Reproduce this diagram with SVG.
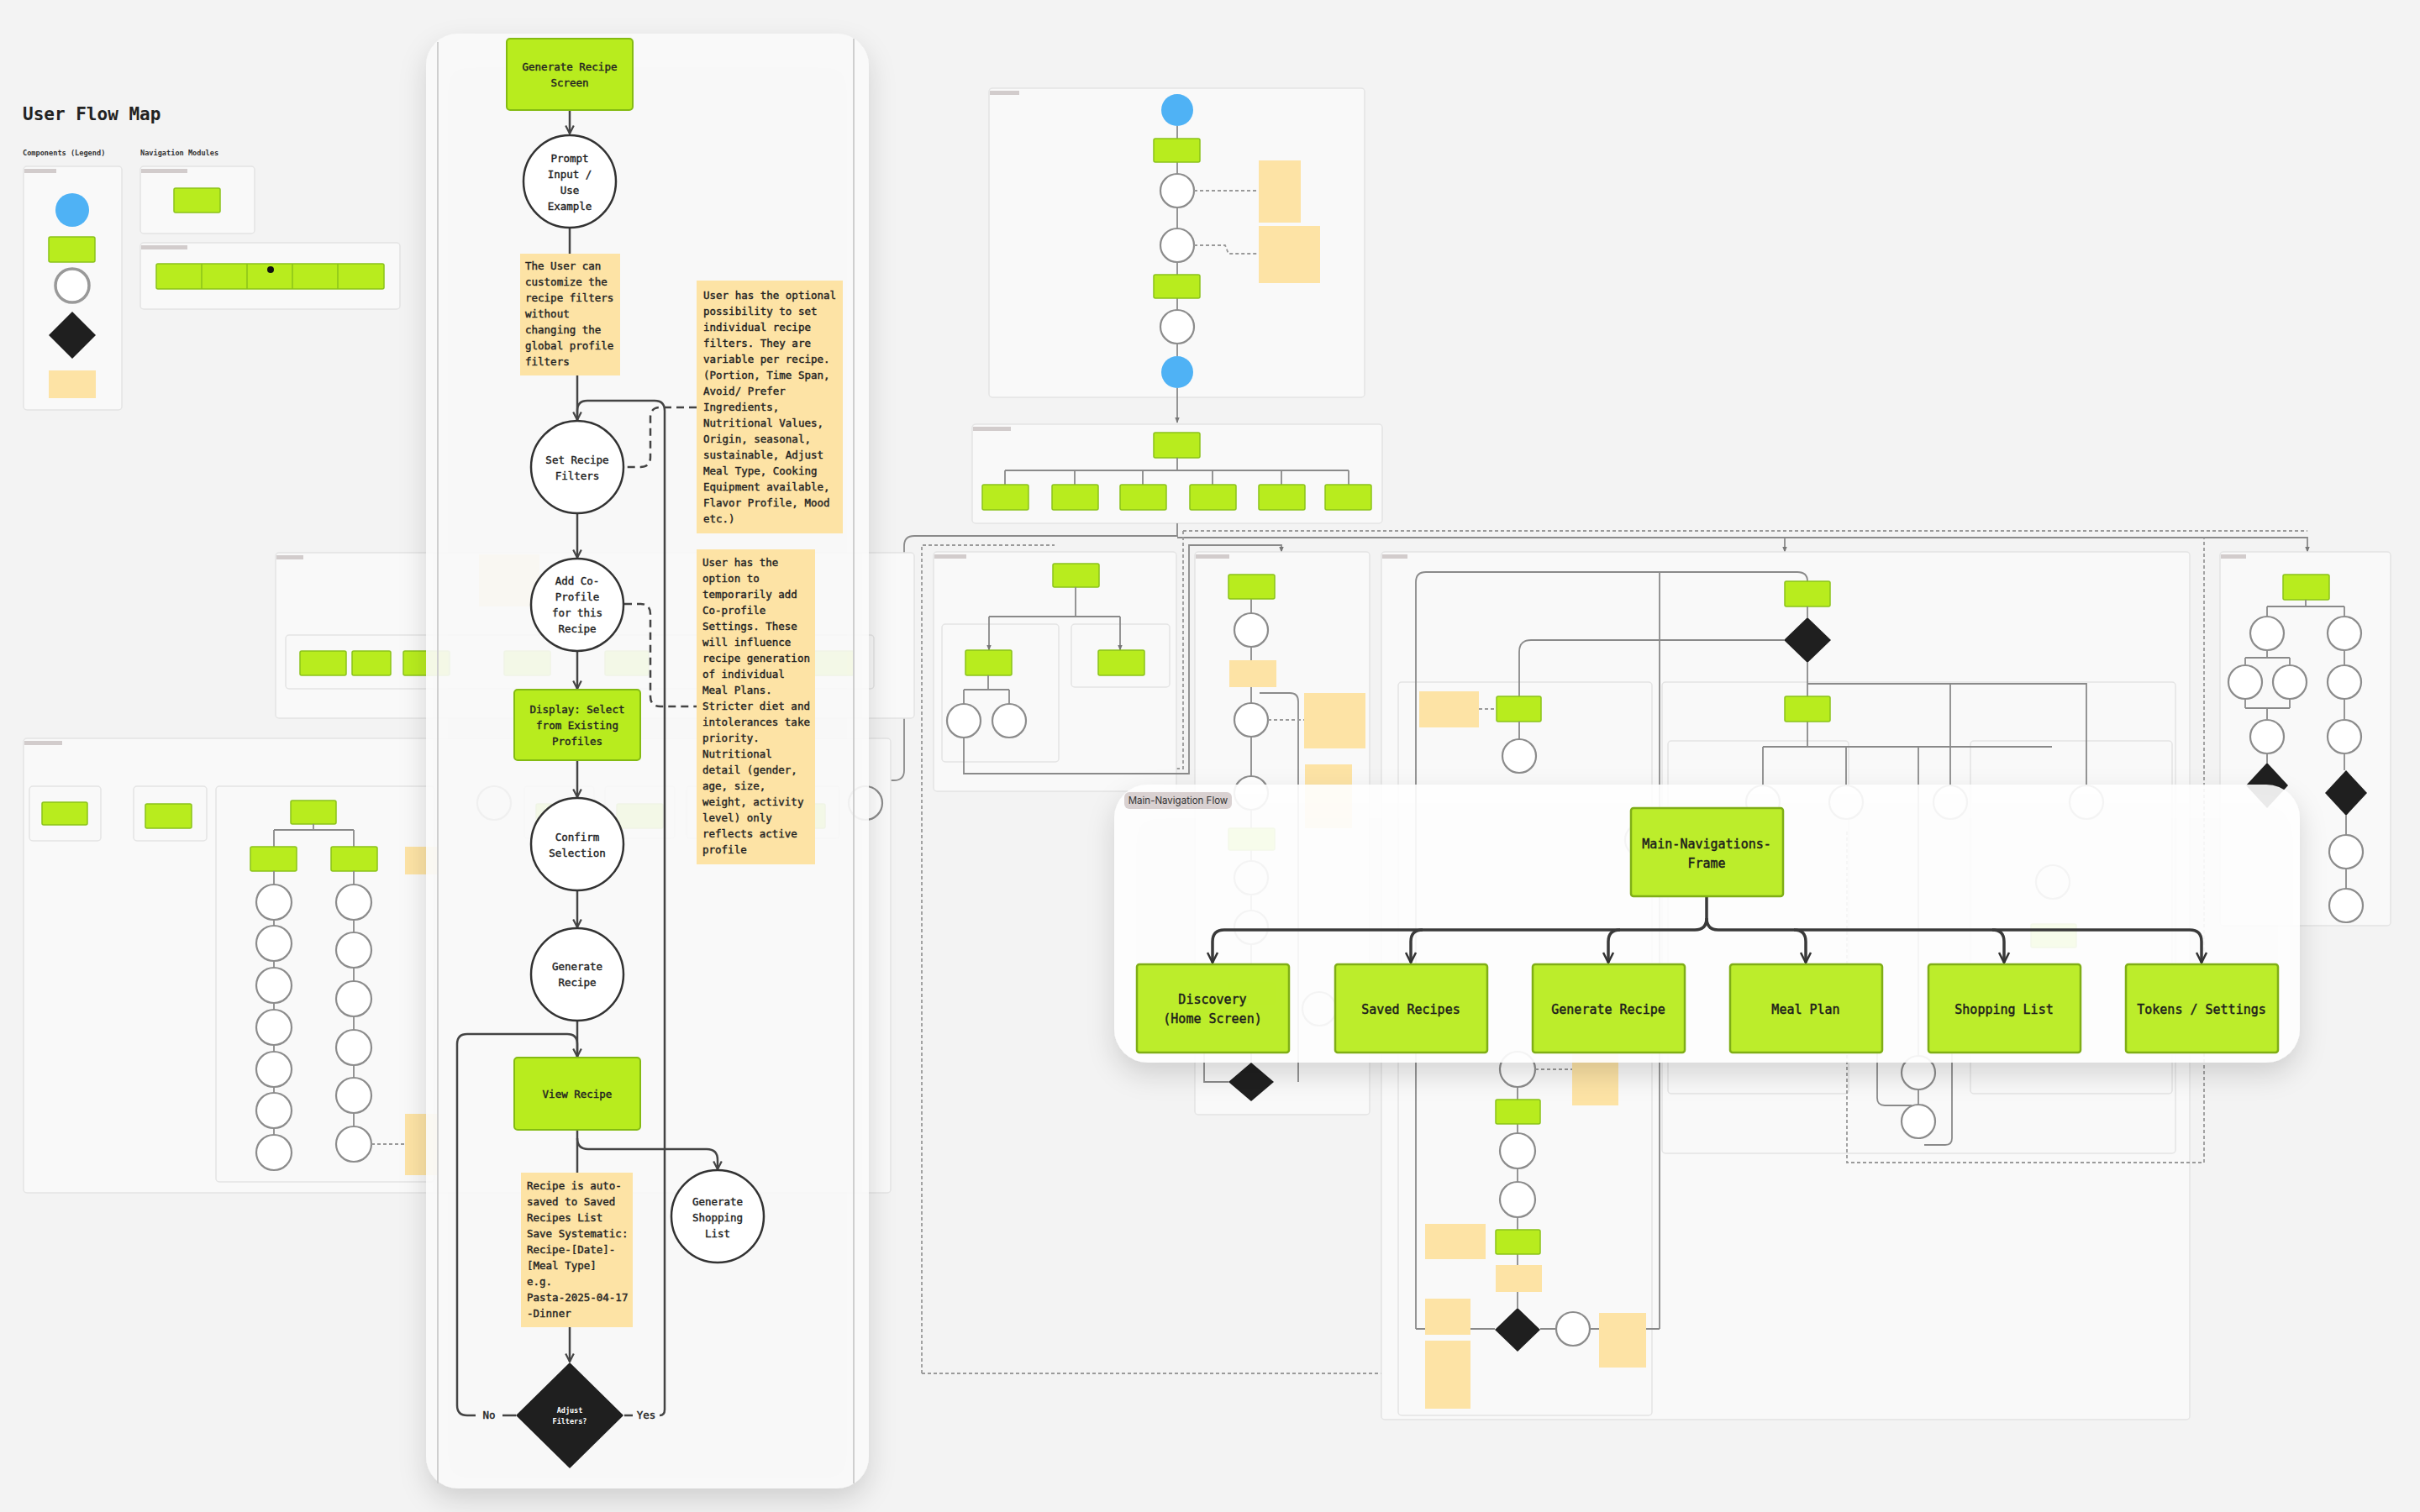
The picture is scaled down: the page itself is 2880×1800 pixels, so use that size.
<svg xmlns="http://www.w3.org/2000/svg" width="2880" height="1800" viewBox="0 0 2880 1800">
<defs>
<style>
.mono{font-family:"DejaVu Sans Mono","Liberation Mono",monospace}
.t{font-size:12.5px;fill:#222;stroke:#222;stroke-width:0.4}
.tm{font-size:15px;fill:#1c1c1c;stroke:#1c1c1c;stroke-width:0.45}
.tc{text-anchor:middle}
.fr{fill:#f9f9f9;stroke:#e4e4e4;stroke-width:1.5}
.tag{fill:#d2cccc}
.g{fill:#b8ec1e;stroke:#84bb12;stroke-width:2}
.gm{fill:#b8ec1e;fill-opacity:0.94;stroke:#7fae16;stroke-width:2.5}
.gb{fill:#b8ec1e;stroke:#8ac21a;stroke-width:1.5}
.n{fill:#fde3a5}
.c{fill:#fff;stroke:#333;stroke-width:2.5}
.cb{fill:#fff;stroke:#8c8c8c;stroke-width:2.2}
.bl{fill:#4fb2f5}
.d{fill:#1f1f1f}
.l{fill:none;stroke:#444;stroke-width:2.5}
.lb{fill:none;stroke:#8a8a8a;stroke-width:1.8}
.db{fill:none;stroke:#9a9a9a;stroke-width:1.8;stroke-dasharray:4 3}
.dl{fill:none;stroke:#444;stroke-width:2.5;stroke-dasharray:9 6}
.nav{fill:none;stroke:#3a3a3a;stroke-width:3.5}
</style>
<marker id="a" viewBox="0 0 10 10" refX="9" refY="5" markerWidth="12" markerHeight="12" markerUnits="userSpaceOnUse" orient="auto"><path d="M1,1 L9,5 L1,9" fill="none" stroke="#444" stroke-width="1.8"/></marker>
<marker id="an" viewBox="0 0 10 10" refX="9" refY="5" markerWidth="15" markerHeight="15" markerUnits="userSpaceOnUse" orient="auto"><path d="M1,1 L9,5 L1,9" fill="none" stroke="#333" stroke-width="1.7"/></marker>
<marker id="ab" viewBox="0 0 10 10" refX="9" refY="5" markerWidth="7" markerHeight="7" markerUnits="userSpaceOnUse" orient="auto"><path d="M0,1 L10,5 L0,9 z" fill="#777"/></marker>
<filter id="sh" x="-10%" y="-10%" width="120%" height="130%"><feDropShadow dx="0" dy="14" stdDeviation="16" flood-color="#000" flood-opacity="0.16"/></filter>
</defs>

<rect width="2880" height="1800" fill="#f3f3f3"/>

<!-- ================= BACKGROUND MAP ================= -->
<g id="background">
  <text x="27" y="143" class="mono" font-size="21" font-weight="bold" fill="#222">User Flow Map</text>
  <text x="27" y="185" class="mono" font-size="8.6" font-weight="bold" fill="#333">Components (Legend)</text>
  <text x="167" y="185" class="mono" font-size="8.6" font-weight="bold" fill="#333">Navigation Modules</text>

  <g id="legend">
    <rect x="28" y="198" width="117" height="290" rx="4" class="fr"/>
    <rect x="29" y="201" width="38" height="5" class="tag"/>
    <circle cx="86" cy="250" r="20" class="bl"/>
    <rect x="58" y="282" width="55" height="30" rx="2" class="gb"/>
    <circle cx="86" cy="340" r="20" fill="#fff" stroke="#999" stroke-width="3.5"/>
    <polygon points="86,371 114,399 86,427 58,399" class="d"/>
    <rect x="58" y="441" width="56" height="33" class="n"/>
  </g>
  <g id="nav-modules">
    <rect x="167" y="198" width="136" height="80" rx="4" class="fr"/>
    <rect x="168" y="201" width="55" height="5" class="tag"/>
    <rect x="207" y="224" width="55" height="29" rx="2" class="gb"/>
    <rect x="167" y="289" width="309" height="79" rx="4" class="fr"/>
    <rect x="168" y="292" width="55" height="5" class="tag"/>
    <rect x="186" y="314" width="271" height="30" rx="2" class="gb"/>
    <path d="M240,314 V344 M294,314 V344 M348,314 V344 M402,314 V344" stroke="#8ac21a" stroke-width="1.5"/>
    <circle cx="322" cy="321" r="4" fill="#111"/>
  </g>

  <g id="onboarding-flow">
    <rect x="1177" y="105" width="447" height="368" rx="4" class="fr"/>
    <rect x="1178" y="108" width="35" height="5" class="tag"/>
    <path class="lb" d="M1401,150 V165 M1401,193 V207 M1401,247 V272 M1401,312 V327 M1401,355 V369 M1401,409 V424"/>
    <path class="lb" d="M1401,462 V503" marker-end="url(#ab)"/>
    <circle cx="1401" cy="131" r="19" class="bl"/>
    <rect x="1373" y="165" width="55" height="28" rx="2" class="gb"/>
    <circle cx="1401" cy="227" r="20" class="cb"/>
    <circle cx="1401" cy="292" r="20" class="cb"/>
    <rect x="1373" y="327" width="55" height="28" rx="2" class="gb"/>
    <circle cx="1401" cy="389" r="20" class="cb"/>
    <circle cx="1401" cy="443" r="19" class="bl"/>
    <rect x="1498" y="191" width="50" height="74" class="n"/>
    <rect x="1498" y="269" width="73" height="68" class="n"/>
    <path class="db" d="M1421,227 H1498 M1421,292 H1458 L1462,302 H1498"/>
  </g>

  <g id="main-navigation-flow-bg">
    <rect x="1157" y="505" width="488" height="118" rx="4" class="fr"/>
    <rect x="1158" y="508" width="45" height="5" class="tag"/>
    <rect x="1373" y="515" width="55" height="30" rx="2" class="gb"/>
    <path class="lb" d="M1401,545 V560 M1196,560 H1605"/>
    <path class="lb" d="M1196,560 V577 M1279,560 V577 M1360,560 V577 M1443,560 V577 M1525,560 V577 M1605,560 V577"/>
    <rect x="1169" y="577" width="55" height="30" rx="2" class="gb"/>
    <rect x="1252" y="577" width="55" height="30" rx="2" class="gb"/>
    <rect x="1333" y="577" width="55" height="30" rx="2" class="gb"/>
    <rect x="1416" y="577" width="55" height="30" rx="2" class="gb"/>
    <rect x="1498" y="577" width="55" height="30" rx="2" class="gb"/>
    <rect x="1577" y="577" width="55" height="30" rx="2" class="gb"/>
  </g>

  <g id="bus-bg">
    <path class="lb" d="M1401,623 V638 H1088 Q1076,638 1076,650 V917 Q1076,929 1064,929 H89 Q77,929 77,941" marker-end="url(#ab)"/>
    <path class="lb" d="M1076,716 Q1076,728 1064,728 H460 Q448,728 448,740 V756" marker-end="url(#ab)"/>
    <path class="lb" d="M1401,640 H2746 V657" marker-end="url(#ab)"/>
    <path class="db" d="M1408,632 H2746"/>
    <path class="lb" d="M2124,640 V657" marker-end="url(#ab)"/>
    <path class="lb" d="M203,929 V937 M407,929 V937 M588,929 V937 M665,929 V937 M762,929 V937 M956,929 V937"/>
  </g>

  <g id="discovery-flow-bg">
    <rect x="328" y="658" width="760" height="197" rx="4" class="fr"/>
    <rect x="329" y="661" width="32" height="5" class="tag"/>
    <rect x="340" y="756" width="700" height="64" rx="4" class="fr"/>
    <rect x="357" y="775" width="55" height="29" rx="2" class="gb"/>
    <rect x="419" y="775" width="46" height="29" rx="2" class="gb"/>
    <rect x="480" y="775" width="55" height="29" rx="2" class="gb"/>
    <rect x="600" y="775" width="55" height="29" rx="2" class="gb"/>
    <rect x="720" y="775" width="52" height="29" rx="2" class="gb"/>
    <rect x="963" y="775" width="53" height="29" rx="2" class="gb"/>
    <rect x="570" y="660" width="72" height="62" class="n"/>
  </g>

  <g id="tokens-settings-flow-bg">
    <rect x="28" y="879" width="1032" height="541" rx="4" class="fr"/>
    <rect x="29" y="882" width="45" height="5" class="tag"/>
    <rect x="35" y="936" width="85" height="65" rx="4" class="fr"/>
    <rect x="159" y="936" width="87" height="65" rx="4" class="fr"/>
    <rect x="257" y="936" width="260" height="471" rx="4" class="fr"/>
    <rect x="624" y="936" width="83" height="62" rx="4" class="fr"/>
    <rect x="720" y="936" width="83" height="62" rx="4" class="fr"/>
    <rect x="817" y="936" width="89" height="62" rx="4" class="fr"/>
    <rect x="913" y="936" width="86" height="62" rx="4" class="fr"/>
    <rect x="50" y="955" width="54" height="27" rx="2" class="gb"/>
    <rect x="173" y="957" width="55" height="29" rx="2" class="gb"/>
    <circle cx="588" cy="956" r="20" class="cb"/>
    <rect x="638" y="957" width="55" height="29" rx="2" class="gb"/>
    <rect x="734" y="957" width="55" height="29" rx="2" class="gb"/>
    <rect x="927" y="957" width="55" height="29" rx="2" class="gb"/>
    <circle cx="1030" cy="956" r="20" class="cb"/>
    <rect x="346" y="953" width="54" height="28" rx="2" class="gb"/>
    <path class="lb" d="M373,981 V988 M326,988 H421 M326,988 V1008 M421,988 V1008"/>
    <rect x="298" y="1008" width="55" height="29" rx="2" class="gb"/>
    <rect x="394" y="1008" width="55" height="29" rx="2" class="gb"/>
    <path class="lb" d="M326,1037 V1351 M421,1037 V1341"/>
    <circle cx="326" cy="1074" r="21" class="cb"/>
    <circle cx="326" cy="1123" r="21" class="cb"/>
    <circle cx="326" cy="1173" r="21" class="cb"/>
    <circle cx="326" cy="1223" r="21" class="cb"/>
    <circle cx="326" cy="1273" r="21" class="cb"/>
    <circle cx="326" cy="1322" r="21" class="cb"/>
    <circle cx="326" cy="1372" r="21" class="cb"/>
    <circle cx="421" cy="1074" r="21" class="cb"/>
    <circle cx="421" cy="1131" r="21" class="cb"/>
    <circle cx="421" cy="1189" r="21" class="cb"/>
    <circle cx="421" cy="1247" r="21" class="cb"/>
    <circle cx="421" cy="1304" r="21" class="cb"/>
    <circle cx="421" cy="1362" r="21" class="cb"/>
    <rect x="482" y="1008" width="40" height="33" class="n"/>
    <rect x="482" y="1326" width="38" height="73" class="n"/>
    <path class="db" d="M442,1362 H482"/>
  </g>

  <g id="saved-recipes-flow-bg">
    <path class="db" d="M1097,1635 V649 H1255"/>
    <path class="db" d="M1097,1635 H1696"/>
    <path class="db" d="M1408,632 V915 H1201 V878"/>
    <rect x="1111" y="657" width="289" height="285" rx="4" class="fr"/>
    <rect x="1112" y="660" width="38" height="5" class="tag"/>
    <rect x="1253" y="671" width="55" height="28" rx="2" class="gb"/>
    <path class="lb" d="M1280,699 V734 M1177,734 H1333"/>
    <rect x="1121" y="743" width="139" height="164" rx="4" class="fr"/>
    <rect x="1275" y="743" width="117" height="75" rx="4" class="fr"/>
    <path class="lb" d="M1177,734 V774" marker-end="url(#ab)"/>
    <path class="lb" d="M1333,734 V774" marker-end="url(#ab)"/>
    <rect x="1149" y="774" width="55" height="30" rx="2" class="gb"/>
    <rect x="1307" y="774" width="55" height="30" rx="2" class="gb"/>
    <path class="lb" d="M1176,804 V821 M1147,821 H1201 M1147,821 V838 M1201,821 V838"/>
    <circle cx="1147" cy="858" r="20" class="cb"/>
    <circle cx="1201" cy="858" r="20" class="cb"/>
    <path class="lb" d="M1147,878 V921 H1415 V649 H1525 V657" marker-end="url(#ab)"/>
  </g>

  <g id="generate-recipe-flow-bg">
    <rect x="1422" y="657" width="208" height="670" rx="4" class="fr"/>
    <rect x="1423" y="660" width="40" height="5" class="tag"/>
    <path class="lb" d="M1489,713 V730 M1489,770 V837 M1489,877 V924 M1489,964 V986 M1489,1012 V1025 M1489,1065 V1084 M1489,1124 V1264"/>
    <path class="lb" d="M1545,1288 V835 Q1545,825 1535,825 H1499"/>
    <path class="lb" d="M1462,1288 H1433 V1150"/>
    <rect x="1462" y="684" width="55" height="29" rx="2" class="gb"/>
    <circle cx="1489" cy="750" r="20" class="cb"/>
    <rect x="1463" y="786" width="56" height="32" class="n"/>
    <circle cx="1489" cy="857" r="20" class="cb"/>
    <rect x="1552" y="825" width="73" height="66" class="n"/>
    <rect x="1553" y="910" width="56" height="76" class="n"/>
    <path class="db" d="M1509,857 H1552"/>
    <circle cx="1489" cy="944" r="20" class="cb"/>
    <rect x="1462" y="986" width="55" height="26" rx="2" class="gb"/>
    <circle cx="1489" cy="1045" r="20" class="cb"/>
    <circle cx="1489" cy="1104" r="20" class="cb"/>
    <rect x="1462" y="1170" width="55" height="26" rx="2" class="gb"/>
    <circle cx="1570" cy="1201" r="20" class="cb"/>
    <polygon points="1489,1265 1516,1288 1489,1311 1462,1288" class="d"/>
  </g>

  <g id="meal-plan-flow-bg">
    <rect x="1644" y="657" width="962" height="1033" rx="4" class="fr"/>
    <rect x="1645" y="660" width="30" height="5" class="tag"/>
    <rect x="1664" y="812" width="302" height="873" rx="4" class="fr"/>
    <rect x="1978" y="812" width="611" height="561" rx="4" class="fr"/>
    <rect x="1985" y="882" width="215" height="420" rx="4" class="fr"/>
    <rect x="2345" y="882" width="240" height="420" rx="4" class="fr"/>
    <path class="db" d="M2198,990 V1384 H2623 V640"/>
    <path class="lb" d="M1685,1582 V693 Q1685,681 1697,681 H2139 Q2151,681 2151,692"/>
    <path class="lb" d="M1975,681 V1582"/>
    <rect x="2124" y="692" width="54" height="30" rx="2" class="gb"/>
    <path class="lb" d="M2151,722 V735 M2151,789 V829 M2151,859 V889 M2098,889 H2442 M2151,814 H2483 V935 M2321,814 V935"/>
    <path class="lb" d="M2098,889 V935 M2197,889 V935 M2283,889 V1257 M2283,1297 V1315"/>
    <polygon points="2151,735 2179,762 2151,789 2123,762" class="d"/>
    <path class="lb" d="M2123,762 H1822 Q1808,762 1808,776 V829"/>
    <rect x="1781" y="829" width="53" height="30" rx="2" class="gb"/>
    <rect x="1689" y="823" width="71" height="43" class="n"/>
    <path class="db" d="M1760,844 H1781"/>
    <path class="lb" d="M1808,859 V880"/>
    <circle cx="1808" cy="900" r="20" class="cb"/>
    <rect x="2124" y="829" width="54" height="30" rx="2" class="gb"/>
    <circle cx="2098" cy="955" r="20" class="cb"/>
    <circle cx="2197" cy="955" r="20" class="cb"/>
    <circle cx="2321" cy="955" r="20" class="cb"/>
    <circle cx="2483" cy="955" r="20" class="cb"/>
    <circle cx="2443" cy="1050" r="20" class="cb"/>
    <rect x="2417" y="1100" width="54" height="28" rx="2" class="gb"/>
    <circle cx="1954" cy="1000" r="20" class="cb"/>
    <circle cx="2283" cy="1277" r="20" class="cb"/>
    <circle cx="2283" cy="1335" r="20" class="cb"/>
    <path class="lb" d="M2234,1180 V1307 Q2234,1316 2243,1316 H2275 M2323,1180 V1355 Q2323,1363 2315,1363 H2290"/>
    <path class="lb" d="M1806,1294 V1309 M1806,1338 V1349 M1806,1391 V1407 M1806,1449 V1464 M1806,1493 V1506 M1806,1538 V1557"/>
    <circle cx="1806" cy="1273" r="21" class="cb"/>
    <rect x="1780" y="1309" width="53" height="29" rx="2" class="gb"/>
    <circle cx="1806" cy="1370" r="21" class="cb"/>
    <circle cx="1806" cy="1428" r="21" class="cb"/>
    <rect x="1780" y="1464" width="53" height="29" rx="2" class="gb"/>
    <rect x="1780" y="1506" width="55" height="32" class="n"/>
    <path class="lb" d="M1685,1582 H1779 M1833,1582 H1852 M1892,1582 H1975"/>
    <polygon points="1806,1557 1833,1583 1806,1609 1779,1583" class="d"/>
    <circle cx="1872" cy="1582" r="20" class="cb"/>
    <rect x="1696" y="1457" width="72" height="42" class="n"/>
    <rect x="1696" y="1546" width="54" height="43" class="n"/>
    <rect x="1696" y="1596" width="54" height="81" class="n"/>
    <rect x="1903" y="1563" width="56" height="65" class="n"/>
    <rect x="1871" y="1240" width="55" height="76" class="n"/>
    <path class="db" d="M1827,1273 H1871"/>
  </g>

  <g id="shopping-list-flow-bg">
    <rect x="2642" y="657" width="203" height="445" rx="4" class="fr"/>
    <rect x="2643" y="660" width="30" height="5" class="tag"/>
    <rect x="2717" y="684" width="55" height="30" rx="2" class="gb"/>
    <path class="lb" d="M2744,714 V722 M2698,722 H2790 M2698,722 V733 M2790,722 V733 M2698,775 V783 M2672,783 H2725 M2672,783 V791 M2725,783 V791 M2672,833 V843 M2725,833 V843 M2672,843 H2725 M2698,843 V856 M2790,775 V791 M2790,833 V856 M2698,898 V908 M2790,898 V917 M2792,971 V994 M2792,1034 V1058"/>
    <circle cx="2698" cy="754" r="20" class="cb"/>
    <circle cx="2790" cy="754" r="20" class="cb"/>
    <circle cx="2672" cy="812" r="20" class="cb"/>
    <circle cx="2725" cy="812" r="20" class="cb"/>
    <circle cx="2790" cy="812" r="20" class="cb"/>
    <circle cx="2698" cy="877" r="20" class="cb"/>
    <circle cx="2790" cy="877" r="20" class="cb"/>
    <polygon points="2698,908 2723,935 2698,962 2673,935" class="d"/>
    <polygon points="2792,917 2817,944 2792,971 2767,944" class="d"/>
    <circle cx="2792" cy="1014" r="20" class="cb"/>
    <circle cx="2792" cy="1078" r="20" class="cb"/>
  </g>
</g>

<!-- ================= GENERATE RECIPE CARD ================= -->
<g id="generate-recipe-card">
  <rect x="507" y="40" width="527" height="1732" rx="38" fill="#fbfbfb" fill-opacity="0.9" filter="url(#sh)"/>
  <path d="M521,50 V1766 M1016,46 V1766" stroke="#cfcfcf" stroke-width="2"/>

  <g id="connectors">
    <path class="l" d="M678,131 V159" marker-end="url(#a)"/>
    <path class="l" d="M678,271 V302"/>
    <path class="l" d="M687,447 V500" marker-end="url(#a)"/>
    <path class="l" d="M785,1685 Q791,1685 791,1678 V489 Q791,477 779,477 H699 Q687,477 687,489 V500"/>
    <path class="l" d="M743,1685 H753"/>
    <path class="l" d="M687,611 V664" marker-end="url(#a)"/>
    <path class="dl" d="M829,485 H786 Q774,485 774,497 V544 Q774,556 762,556 H743"/>
    <path class="l" d="M687,775 V820" marker-end="url(#a)"/>
    <path class="dl" d="M743,719 H762 Q774,719 774,731 V829 Q774,841 786,841 H829"/>
    <path class="l" d="M687,905 V949" marker-end="url(#a)"/>
    <path class="l" d="M687,1060 V1104" marker-end="url(#a)"/>
    <path class="l" d="M687,1215 V1258" marker-end="url(#a)"/>
    <path class="l" d="M614,1685 H598"/>
    <path class="l" d="M566,1685 H556 Q544,1685 544,1673 V1243 Q544,1231 556,1231 H675 Q687,1231 687,1243 V1258"/>
    <path class="l" d="M687,1345 V1396"/>
    <path class="l" d="M687,1355 Q687,1368 700,1368 H841 Q854,1368 854,1381 V1392" marker-end="url(#a)"/>
    <path class="l" d="M678,1580 V1621" marker-end="url(#a)"/>
    <text x="582" y="1689" class="mono t tc">No</text>
    <text x="769" y="1689" class="mono t tc">Yes</text>
  </g>

  <g id="node-generate-recipe-screen">
    <rect x="603" y="46" width="150" height="85" rx="4" class="g"/>
    <text class="mono t tc" x="678" y="84">Generate Recipe</text>
    <text class="mono t tc" x="678" y="103">Screen</text>
  </g>
  <g id="node-prompt-input">
    <circle cx="678" cy="216" r="55" class="c"/>
    <text class="mono t tc" x="678" y="193">Prompt</text>
    <text class="mono t tc" x="678" y="212">Input /</text>
    <text class="mono t tc" x="678" y="231">Use</text>
    <text class="mono t tc" x="678" y="250">Example</text>
  </g>
  <g id="note-customize">
    <rect x="619" y="302" width="119" height="145" class="n"/>
    <text class="mono t" x="625" y="321">The User can</text>
    <text class="mono t" x="625" y="340">customize the</text>
    <text class="mono t" x="625" y="359">recipe filters</text>
    <text class="mono t" x="625" y="378">without</text>
    <text class="mono t" x="625" y="397">changing the</text>
    <text class="mono t" x="625" y="416">global profile</text>
    <text class="mono t" x="625" y="435">filters</text>
  </g>
  <g id="node-set-recipe-filters">
    <circle cx="687" cy="556" r="55" class="c"/>
    <text class="mono t tc" x="687" y="552">Set Recipe</text>
    <text class="mono t tc" x="687" y="571">Filters</text>
  </g>
  <g id="note-optional-filters">
    <rect x="829" y="334" width="174" height="301" class="n"/>
    <text class="mono t" x="837" y="356">User has the optional</text>
    <text class="mono t" x="837" y="375">possibility to set</text>
    <text class="mono t" x="837" y="394">individual recipe</text>
    <text class="mono t" x="837" y="413">filters. They are</text>
    <text class="mono t" x="837" y="432">variable per recipe.</text>
    <text class="mono t" x="837" y="451">(Portion, Time Span,</text>
    <text class="mono t" x="837" y="470">Avoid/ Prefer</text>
    <text class="mono t" x="837" y="489">Ingredients,</text>
    <text class="mono t" x="837" y="508">Nutritional Values,</text>
    <text class="mono t" x="837" y="527">Origin, seasonal,</text>
    <text class="mono t" x="837" y="546">sustainable, Adjust</text>
    <text class="mono t" x="837" y="565">Meal Type, Cooking</text>
    <text class="mono t" x="837" y="584">Equipment available,</text>
    <text class="mono t" x="837" y="603">Flavor Profile, Mood</text>
    <text class="mono t" x="837" y="622">etc.)</text>
  </g>
  <g id="node-add-co-profile">
    <circle cx="687" cy="720" r="55" class="c"/>
    <text class="mono t tc" x="687" y="696">Add Co-</text>
    <text class="mono t tc" x="687" y="715">Profile</text>
    <text class="mono t tc" x="687" y="734">for this</text>
    <text class="mono t tc" x="687" y="753">Recipe</text>
  </g>
  <g id="note-co-profile">
    <rect x="829" y="654" width="141" height="375" class="n"/>
    <text class="mono t" x="836" y="674">User has the</text>
    <text class="mono t" x="836" y="693">option to</text>
    <text class="mono t" x="836" y="712">temporarily add</text>
    <text class="mono t" x="836" y="731">Co-profile</text>
    <text class="mono t" x="836" y="750">Settings. These</text>
    <text class="mono t" x="836" y="769">will influence</text>
    <text class="mono t" x="836" y="788">recipe generation</text>
    <text class="mono t" x="836" y="807">of individual</text>
    <text class="mono t" x="836" y="826">Meal Plans.</text>
    <text class="mono t" x="836" y="845">Stricter diet and</text>
    <text class="mono t" x="836" y="864">intolerances take</text>
    <text class="mono t" x="836" y="883">priority.</text>
    <text class="mono t" x="836" y="902">Nutritional</text>
    <text class="mono t" x="836" y="921">detail (gender,</text>
    <text class="mono t" x="836" y="940">age, size,</text>
    <text class="mono t" x="836" y="959">weight, activity</text>
    <text class="mono t" x="836" y="978">level) only</text>
    <text class="mono t" x="836" y="997">reflects active</text>
    <text class="mono t" x="836" y="1016">profile</text>
  </g>
  <g id="node-display-select-profiles">
    <rect x="612" y="821" width="150" height="84" rx="4" class="g"/>
    <text class="mono t tc" x="687" y="849">Display: Select</text>
    <text class="mono t tc" x="687" y="868">from Existing</text>
    <text class="mono t tc" x="687" y="887">Profiles</text>
  </g>
  <g id="node-confirm-selection">
    <circle cx="687" cy="1005" r="55" class="c"/>
    <text class="mono t tc" x="687" y="1001">Confirm</text>
    <text class="mono t tc" x="687" y="1020">Selection</text>
  </g>
  <g id="node-generate-recipe">
    <circle cx="687" cy="1160" r="55" class="c"/>
    <text class="mono t tc" x="687" y="1155">Generate</text>
    <text class="mono t tc" x="687" y="1174">Recipe</text>
  </g>
  <g id="node-view-recipe">
    <rect x="612" y="1259" width="150" height="86" rx="4" class="g"/>
    <text class="mono t tc" x="687" y="1307">View Recipe</text>
  </g>
  <g id="node-generate-shopping-list">
    <circle cx="854" cy="1448" r="55" class="c"/>
    <text class="mono t tc" x="854" y="1435">Generate</text>
    <text class="mono t tc" x="854" y="1454">Shopping</text>
    <text class="mono t tc" x="854" y="1473">List</text>
  </g>
  <g id="note-auto-saved">
    <rect x="620" y="1396" width="133" height="184" class="n"/>
    <text class="mono t" x="627" y="1416">Recipe is auto-</text>
    <text class="mono t" x="627" y="1435">saved to Saved</text>
    <text class="mono t" x="627" y="1454">Recipes List</text>
    <text class="mono t" x="627" y="1473">Save Systematic:</text>
    <text class="mono t" x="627" y="1492">Recipe-[Date]-</text>
    <text class="mono t" x="627" y="1511">[Meal Type]</text>
    <text class="mono t" x="627" y="1530">e.g.</text>
    <text class="mono t" x="627" y="1549">Pasta-2025-04-17</text>
    <text class="mono t" x="627" y="1568">-Dinner</text>
  </g>
  <g id="node-adjust-filters">
    <polygon points="678,1622 742,1685 678,1748 614,1685" class="d"/>
    <text class="mono tc" x="678" y="1682" font-size="8.5" font-weight="bold" fill="#fff">Adjust</text>
    <text class="mono tc" x="678" y="1695" font-size="8.5" font-weight="bold" fill="#fff">Filters?</text>
  </g>
</g>

<!-- ================= MAIN NAVIGATION CARD ================= -->
<g id="main-navigation-card">
  <rect x="1326" y="934" width="1411" height="331" rx="40" fill="#ffffff" fill-opacity="0.9" filter="url(#sh)"/>
  <rect x="1338" y="943" width="128" height="20" rx="6" fill="#d9d1d1"/>
  <text x="1402" y="957" text-anchor="middle" font-family="Inter,'Liberation Sans',sans-serif" font-size="11.5" fill="#333">Main-Navigation Flow</text>

  <g id="nav-connectors">
    <path class="nav" d="M2031,1067 V1093 Q2031,1107 2017,1107 H1457 Q1443,1107 1443,1121 V1146" marker-end="url(#an)"/>
    <path class="nav" d="M2031,1093 Q2031,1107 2045,1107 H2606 Q2620,1107 2620,1121 V1146" marker-end="url(#an)"/>
    <path class="nav" d="M1693,1107 Q1679,1107 1679,1121 V1146" marker-end="url(#an)"/>
    <path class="nav" d="M1928,1107 Q1914,1107 1914,1121 V1146" marker-end="url(#an)"/>
    <path class="nav" d="M2135,1107 Q2149,1107 2149,1121 V1146" marker-end="url(#an)"/>
    <path class="nav" d="M2371,1107 Q2385,1107 2385,1121 V1146" marker-end="url(#an)"/>
  </g>

  <g id="node-main-navigations-frame">
    <rect x="1941" y="962" width="181" height="105" rx="3" class="gm"/>
    <text class="mono tm tc" x="2031" y="1010">Main-Navigations-</text>
    <text class="mono tm tc" x="2031" y="1033">Frame</text>
  </g>
  <g id="node-discovery">
    <rect x="1353" y="1148" width="181" height="105" rx="3" class="gm"/>
    <text class="mono tm tc" x="1443" y="1195">Discovery</text>
    <text class="mono tm tc" x="1443" y="1218">(Home Screen)</text>
  </g>
  <g id="node-saved-recipes">
    <rect x="1589" y="1148" width="181" height="105" rx="3" class="gm"/>
    <text class="mono tm tc" x="1679" y="1207">Saved Recipes</text>
  </g>
  <g id="node-generate-recipe-nav">
    <rect x="1824" y="1148" width="181" height="105" rx="3" class="gm"/>
    <text class="mono tm tc" x="1914" y="1207">Generate Recipe</text>
  </g>
  <g id="node-meal-plan">
    <rect x="2059" y="1148" width="181" height="105" rx="3" class="gm"/>
    <text class="mono tm tc" x="2149" y="1207">Meal Plan</text>
  </g>
  <g id="node-shopping-list">
    <rect x="2295" y="1148" width="181" height="105" rx="3" class="gm"/>
    <text class="mono tm tc" x="2385" y="1207">Shopping List</text>
  </g>
  <g id="node-tokens-settings">
    <rect x="2530" y="1148" width="181" height="105" rx="3" class="gm"/>
    <text class="mono tm tc" x="2620" y="1207">Tokens / Settings</text>
  </g>
</g>
</svg>
